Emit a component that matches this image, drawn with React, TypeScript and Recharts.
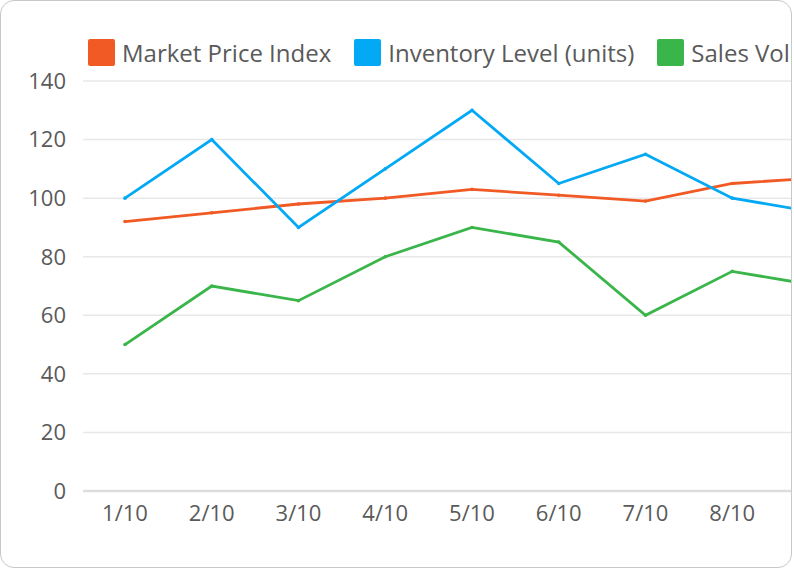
import { LineChart, Line, XAxis, YAxis, CartesianGrid, Legend } from 'recharts'

const dates = ['1/10', '2/10', '3/10', '4/10', '5/10', '6/10', '7/10', '8/10', '9/10']
const marketPrice = [92, 95, 98, 100, 103, 101, 99, 105, 107]
const inventory = [100, 120, 90, 110, 130, 105, 115, 100, 95]
const salesVolume = [50, 70, 65, 80, 90, 85, 60, 75, 70]
const yTicks = [0, 20, 40, 60, 80, 100, 120, 140]

const SERIES = [
  { key: 'price', name: 'Market Price Index', color: '#f15a24' },
  { key: 'inventory', name: 'Inventory Level (units)', color: '#03a9f4' },
  { key: 'sales', name: 'Sales Volume', color: '#39b54a' },
]

const FONT = '"Open Sans", sans-serif'

const data = dates.map((d, i) => ({
  date: d,
  price: marketPrice[i],
  inventory: inventory[i],
  sales: salesVolume[i],
}))

function LegendRow() {
  return (
    <div style={{ display: 'flex', alignItems: 'center', height: 30, whiteSpace: 'nowrap' }}>
      {SERIES.map((s) => (
        <div key={s.key} style={{ display: 'flex', alignItems: 'center', marginRight: 23 }}>
          <span style={{ width: 27, height: 27, background: s.color, borderRadius: 2, display: 'inline-block' }} />
          <span style={{ marginLeft: 7, fontSize: 24, color: '#5a5a5a', fontFamily: FONT }}>{s.name}</span>
        </div>
      ))}
    </div>
  )
}

export default function App() {
  return (
    <div
      style={{
        position: 'absolute',
        left: 0,
        top: 0,
        width: 792,
        height: 568,
        boxSizing: 'border-box',
        border: '1.5px solid #c8c8c8',
        borderRadius: 14,
        overflow: 'hidden',
        background: '#fff',
      }}
    >
      <LineChart width={880} height={565} data={data} margin={{ top: 50, right: 20, left: 0, bottom: 45 }}>
        <CartesianGrid vertical={false} stroke="#e8e8e8" strokeWidth={1.5} />
        <XAxis
          dataKey="date"
          padding={{ left: 42, right: 42 }}
          axisLine={{ stroke: '#dddddd', strokeWidth: 2.5 }}
          tickLine={false}
          tickMargin={8}
          tick={{ fill: '#5a5a5a', fontSize: 22, fontFamily: FONT }}
          interval={0}
        />
        <YAxis
          width={82}
          domain={[0, 140]}
          ticks={yTicks}
          axisLine={false}
          tickLine={false}
          tickMargin={11}
          tick={{ fill: '#5a5a5a', fontSize: 22, fontFamily: FONT }}
        />
        <Legend
          verticalAlign="top"
          align="left"
          wrapperStyle={{ top: 36, left: 87, width: 'auto' }}
          content={() => <LegendRow />}
        />
        {SERIES.map((s) => (
          <Line
            key={s.key}
            type="linear"
            dataKey={s.key}
            name={s.name}
            stroke={s.color}
            strokeWidth={2.8}
            dot={{ r: 1.8, fill: s.color, strokeWidth: 0 }}
            activeDot={false}
            isAnimationActive={false}
          />
        ))}
      </LineChart>
    </div>
  )
}
